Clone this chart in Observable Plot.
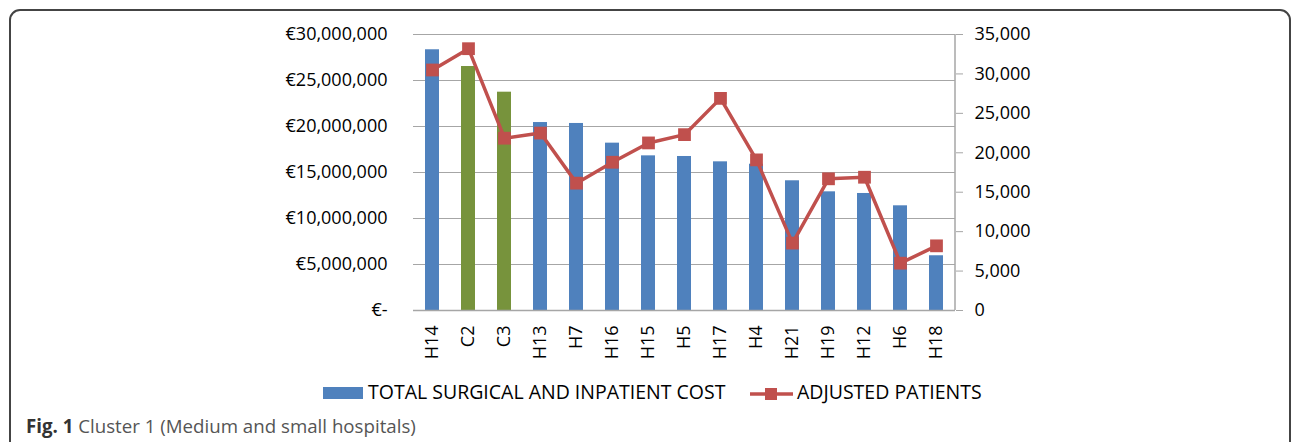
<!DOCTYPE html>
<html>
<head>
<meta charset="utf-8">
<script src="https://cdn.jsdelivr.net/npm/d3@7"></script>
<script src="https://cdn.jsdelivr.net/npm/@observablehq/plot@0.6"></script>
<style>
  html, body { margin: 0; padding: 0; background: #fff; }
  body { width: 1293px; height: 442px; position: relative; overflow: hidden; font-family: "Open Sans", sans-serif; }
  #frame { position: absolute; left: 9px; top: 9px; width: 1282px; height: 520px; border: 2px solid #444; border-radius: 11px; box-sizing: border-box; }
  #chart { position: absolute; left: 0; top: 0; }
  .legend { position: absolute; top: 381.7px; left: 323px; height: 22px; font-size: 19.5px; line-height: 19.5px; color: #000; white-space: nowrap; }
  .legend .item { position: absolute; top: 0; white-space: nowrap; }
  .caption { position: absolute; left: 26px; top: 417.4px; font-size: 18.7px; line-height: 18.7px; color: #555; white-space: nowrap; }
  .caption b { color: #333; }
</style>
</head>
<body>
<div id="frame"></div>
<div id="chart"></div>
<div class="legend">
  <svg width="40" height="12" style="position:absolute;left:0;top:5.3px"><rect width="40" height="12" fill="#4F81BD"></rect></svg>
  <span class="item" style="left:45px">TOTAL SURGICAL AND INPATIENT COST</span>
  <svg width="43" height="14" style="position:absolute;left:427px;top:5.8px"><line x1="0" x2="43" y1="7" y2="7" stroke="#C0504D" stroke-width="3.5"></line><rect x="15" y="1" width="12" height="12" fill="#C0504D"></rect></svg>
  <span class="item" style="left:474px">ADJUSTED PATIENTS</span>
</div>
<div class="caption"><b>Fig. 1</b> Cluster 1 (Medium and small hospitals)</div>
<script>
const categories = ["H14","C2","C3","H13","H7","H16","H15","H5","H17","H4","H21","H19","H12","H6","H18"];
const totalCost = [28340000, 26520000, 23730000, 20430000, 20330000, 18190000, 16810000, 16740000, 16160000, 15900000, 14100000, 12900000, 12720000, 11380000, 5950000];
const adjustedPatients = [30500, 33200, 21850, 22500, 16150, 18800, 21250, 22300, 26900, 19100, 8550, 16700, 16900, 6000, 8200];
const costTicks = [0, 5000000, 10000000, 15000000, 20000000, 25000000, 30000000];
const patientTicks = [0, 5000, 10000, 15000, 20000, 25000, 30000, 35000];

const data = categories.map((name, i) => ({name, cost: totalCost[i], patients: adjustedPatients[i]}));
const k = 30000000 / 35000; // right axis 35,000 aligns with left €30,000,000

const fmtComma = d3.format(",");
const plot = Plot.plot({
  width: 1293,
  height: 370,
  marginLeft: 413,
  marginRight: 338,
  marginTop: 34,
  marginBottom: 60,
  style: {fontFamily: "'Open Sans', sans-serif", fontSize: "18px", color: "#000", background: "transparent"},
  x: {domain: categories, paddingInner: 0.6, paddingOuter: 0.3},
  y: {domain: [0, 30000000]},
  marks: [
    Plot.gridY(costTicks, {stroke: "#a6a6a6", strokeOpacity: 1, strokeWidth: 1.2}),
    Plot.barY(data, {x: "name", y: "cost", fill: d => d.name.startsWith("C") ? "#77933C" : "#4F81BD"}),
    Plot.ruleY([0], {stroke: "#a6a6a6", strokeWidth: 1.5}),
    (index, scales, values, dims) => {
      const g = document.createElementNS("http://www.w3.org/2000/svg", "line");
      const xr = dims.width - dims.marginRight;
      g.setAttribute("x1", xr); g.setAttribute("x2", xr);
      g.setAttribute("y1", dims.marginTop); g.setAttribute("y2", dims.height - dims.marginBottom);
      g.setAttribute("stroke", "#a6a6a6"); g.setAttribute("stroke-width", "1.5");
      return g;
    },
    Plot.line(data, {x: "name", y: d => d.patients * k, stroke: "#C0504D", strokeWidth: 3.5}),
    Plot.dot(data, {x: "name", y: d => d.patients * k, symbol: "square", r: 7.2, fill: "#C0504D", stroke: "none"}),
    Plot.axisY(costTicks, {anchor: "left", tickSize: 0, tickPadding: 26, fontSize: 18, label: null,
      tickFormat: d => d === 0 ? "€-" : "€" + fmtComma(d)}),
    Plot.axisY(patientTicks.map(v => v * k), {anchor: "right", tickSize: 7, tickPadding: 12, fontSize: 18, stroke: "#a6a6a6", label: null,
      tickFormat: d => fmtComma(Math.round(d / k))}),
    Plot.axisX({tickRotate: -90, tickSize: 0, tickPadding: 15, fontSize: 18, label: null})
  ]
});
document.getElementById("chart").appendChild(plot);
</script>
</body>
</html>
